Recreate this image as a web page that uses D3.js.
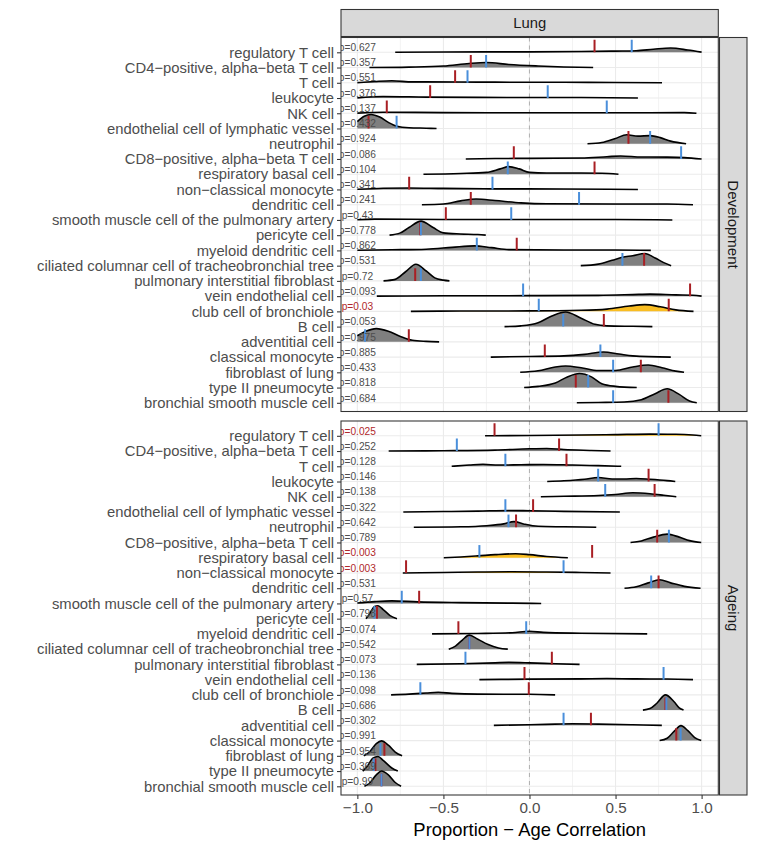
<!DOCTYPE html>
<html><head><meta charset="utf-8">
<script src="https://cdn.jsdelivr.net/npm/d3@7"></script>
<style>body{margin:0;background:#fff}svg{display:block;font-family:"Liberation Sans",Arial,sans-serif}</style>
</head><body><svg id="c" width="757" height="851"></svg>
<script>
const facetTop = "Lung";
const panels = ["Development", "Ageing"];
const cellTypes = ["regulatory T cell","CD4−positive, alpha−beta T cell","T cell","leukocyte","NK cell","endothelial cell of lymphatic vessel","neutrophil","CD8−positive, alpha−beta T cell","respiratory basal cell","non−classical monocyte","dendritic cell","smooth muscle cell of the pulmonary artery","pericyte cell","myeloid dendritic cell","ciliated columnar cell of tracheobronchial tree","pulmonary interstitial fibroblast","vein endothelial cell","club cell of bronchiole","B cell","adventitial cell","classical monocyte","fibroblast of lung","type II pneumocyte","bronchial smooth muscle cell"];
const xTicks = [-1, -0.5, 0, 0.5, 1];
const xMinor = [-0.75, -0.25, 0.25, 0.75];

const devP = [0.627,0.357,0.551,0.376,0.137,0.432,0.924,0.086,0.104,0.341,0.241,0.43,0.778,0.862,0.531,0.72,0.093,0.03,0.053,0.975,0.885,0.433,0.818,0.684];
const devRed = [0.378,-0.341,-0.432,-0.577,-0.829,-0.935,0.575,-0.091,0.378,-0.699,-0.341,-0.486,-0.635,-0.074,0.666,-0.664,0.933,0.809,0.432,-0.701,0.089,0.647,0.269,0.807];
const devBlue = [0.594,-0.252,-0.36,0.106,0.449,-0.772,0.701,0.881,-0.126,-0.215,0.288,-0.106,-0.631,-0.306,0.54,-0.631,-0.037,0.054,0.196,-0.955,0.412,0.486,0.341,0.486];
const devDensity = [
 [[-0.78,0],[-0.5,0.02],[0,0.03],[0.3,0.05],[0.5,0.08],[0.62,0.1],[0.72,0.2],[0.82,0.28],[0.92,0.15],[1.0,0.01]],
 [[-0.93,0],[-0.7,0.03],[-0.5,0.1],[-0.35,0.27],[-0.25,0.33],[-0.12,0.2],[0.05,0.1],[0.2,0.04],[0.37,0]],
 [[-1.0,0.01],[-0.9,0.08],[-0.8,0.13],[-0.68,0.06],[-0.4,0.05],[-0.2,0.04],[0.2,0.03],[0.5,0.02],[0.77,0]],
 [[-1.0,0.01],[-0.85,0.1],[-0.6,0.06],[-0.3,0.04],[0,0.03],[0.3,0.03],[0.63,0]],
 [[-1.0,0.01],[-0.85,0.07],[-0.5,0.04],[0,0.03],[0.5,0.03],[0.9,0.04],[0.97,0]],
 [[-1.0,0.45],[-0.96,0.8],[-0.92,0.92],[-0.87,0.75],[-0.82,0.4],[-0.77,0.15],[-0.7,0.05],[-0.6,0.02],[-0.54,0]],
 [[0.337,0],[0.42,0.08],[0.5,0.35],[0.565,0.59],[0.63,0.5],[0.7,0.53],[0.76,0.4],[0.82,0.17],[0.91,0]],
 [[-0.37,0],[-0.2,0.03],[0,0.04],[0.3,0.06],[0.45,0.15],[0.53,0.2],[0.65,0.13],[0.8,0.12],[0.9,0.09],[1.0,0]],
 [[-0.616,0],[-0.4,0.05],[-0.25,0.12],[-0.17,0.35],[-0.12,0.5],[-0.06,0.35],[0.0,0.12],[0.1,0.08],[0.3,0.08],[0.42,0.06],[0.517,0]],
 [[-1.0,0.01],[-0.85,0.08],[-0.7,0.1],[-0.5,0.07],[-0.2,0.04],[0.2,0.03],[0.63,0]],
 [[-0.625,0],[-0.5,0.05],[-0.4,0.25],[-0.31,0.37],[-0.2,0.27],[-0.05,0.12],[0.1,0.06],[0.5,0.05],[0.8,0.05],[0.95,0]],
 [[-1.0,0.01],[-0.9,0.05],[-0.5,0.03],[0,0.03],[0.5,0.03],[0.83,0]],
 [[-0.813,0],[-0.75,0.15],[-0.7,0.5],[-0.63,0.92],[-0.56,0.5],[-0.5,0.15],[-0.4,0.08],[-0.3,0.04],[-0.254,0]],
 [[-1.0,0.01],[-0.8,0.04],[-0.6,0.08],[-0.45,0.2],[-0.32,0.3],[-0.22,0.18],[-0.12,0.05],[0.2,0.03],[0.5,0.03],[0.705,0]],
 [[0.298,0],[0.4,0.1],[0.48,0.35],[0.54,0.55],[0.6,0.65],[0.67,0.8],[0.73,0.5],[0.78,0.2],[0.823,0]],
 [[-0.848,0],[-0.78,0.1],[-0.72,0.6],[-0.66,1.09],[-0.6,0.65],[-0.55,0.2],[-0.5,0.05],[-0.465,0]],
 [[-0.887,0],[-0.5,0.02],[0,0.03],[0.4,0.05],[0.6,0.1],[0.7,0.13],[0.85,0.08],[0.95,0.06],[1.0,0]],
 [[-0.689,0],[-0.4,0.02],[0,0.03],[0.3,0.07],[0.45,0.15],[0.58,0.35],[0.67,0.44],[0.76,0.3],[0.85,0.1],[0.953,0]],
 [[-0.145,0],[-0.05,0.05],[0.05,0.25],[0.13,0.7],[0.21,0.96],[0.3,0.55],[0.38,0.15],[0.45,0.05],[0.6,0.02],[0.714,0]],
 [[-1.0,0.4],[-0.95,0.7],[-0.89,0.87],[-0.82,0.7],[-0.75,0.35],[-0.68,0.1],[-0.6,0.03],[-0.525,0]],
 [[-0.225,0],[0,0.04],[0.2,0.08],[0.32,0.18],[0.43,0.33],[0.52,0.2],[0.6,0.08],[0.821,0]],
 [[-0.054,0],[0.05,0.1],[0.15,0.35],[0.21,0.41],[0.3,0.3],[0.4,0.12],[0.5,0.12],[0.6,0.35],[0.69,0.48],[0.77,0.3],[0.85,0.08],[0.898,0]],
 [[-0.031,0],[0.05,0.08],[0.15,0.3],[0.22,0.7],[0.29,0.92],[0.36,0.7],[0.42,0.25],[0.5,0.08],[0.623,0]],
 [[0.275,0],[0.4,0.02],[0.55,0.05],[0.65,0.2],[0.73,0.6],[0.8,0.92],[0.87,0.55],[0.93,0.12],[0.972,0]]
];

const ageP = [0.025,0.252,0.128,0.146,0.138,0.322,0.642,0.789,0.003,0.003,0.531,0.57,0.798,0.074,0.542,0.073,0.136,0.098,0.686,0.302,0.991,0.954,0.369,0.99];
const ageRed = [-0.203,0.172,0.215,0.692,0.727,0.021,-0.078,0.742,0.364,-0.717,0.75,-0.641,-0.886,-0.413,-0.35,0.13,-0.029,-0.004,0.79,0.357,0.853,-0.843,-0.895,-0.86];
const ageBlue = [0.75,-0.422,-0.14,0.399,0.44,-0.14,-0.122,0.81,-0.291,0.198,0.707,-0.742,-0.901,-0.019,-0.349,-0.372,0.779,-0.634,0.795,0.198,0.878,-0.866,-0.905,-0.86];
const ageDensity = [
 [[-0.258,0],[0,0.02],[0.3,0.05],[0.5,0.08],[0.7,0.11],[0.85,0.1],[0.95,0.05],[0.998,0]],
 [[-0.818,0],[-0.5,0.02],[-0.2,0.06],[0,0.15],[0.1,0.17],[0.2,0.1],[0.35,0.04],[0.471,0]],
 [[-0.452,0],[-0.35,0.08],[-0.27,0.13],[-0.18,0.08],[-0.05,0.1],[0.08,0.12],[0.25,0.08],[0.4,0.04],[0.533,0]],
 [[0.103,0],[0.2,0.05],[0.32,0.15],[0.4,0.26],[0.48,0.17],[0.55,0.17],[0.62,0.2],[0.7,0.15],[0.8,0.06],[0.847,0]],
 [[0.066,0],[0.2,0.03],[0.4,0.08],[0.5,0.15],[0.6,0.26],[0.7,0.2],[0.78,0.1],[0.853,0]],
 [[-0.733,0],[-0.5,0.03],[-0.3,0.06],[-0.12,0.1],[0,0.08],[0.2,0.04],[0.525,0]],
 [[-0.672,0],[-0.4,0.03],[-0.25,0.1],[-0.15,0.22],[-0.09,0.37],[-0.03,0.2],[0.05,0.06],[0.2,0.03],[0.388,0]],
 [[0.587,0],[0.65,0.1],[0.72,0.35],[0.8,0.55],[0.87,0.35],[0.93,0.12],[0.998,0]],
 [[-0.498,0],[-0.4,0.05],[-0.3,0.12],[-0.2,0.2],[-0.08,0.26],[0,0.2],[0.1,0.08],[0.223,0]],
 [[-0.736,0],[-0.5,0.03],[-0.3,0.06],[-0.1,0.08],[0.1,0.06],[0.3,0.03],[0.471,0]],
 [[0.552,0],[0.62,0.1],[0.69,0.35],[0.756,0.55],[0.82,0.35],[0.9,0.12],[0.994,0]],
 [[-1.0,0.03],[-0.9,0.12],[-0.8,0.17],[-0.65,0.1],[-0.4,0.05],[-0.1,0.02],[0.068,0]],
 [[-0.95,0],[-0.93,0.3],[-0.9,0.8],[-0.88,0.85],[-0.85,0.6],[-0.81,0.2],[-0.77,0]],
 [[-0.566,0],[-0.3,0.03],[-0.1,0.08],[0,0.17],[0.08,0.1],[0.3,0.04],[0.684,0]],
 [[-0.469,0],[-0.43,0.2],[-0.39,0.6],[-0.35,0.92],[-0.3,0.65],[-0.24,0.3],[-0.18,0.08],[-0.126,0]],
 [[-0.655,0],[-0.4,0.04],[-0.2,0.1],[-0.12,0.13],[0,0.1],[0.15,0.04],[0.291,0]],
 [[-0.291,0],[0,0.03],[0.3,0.05],[0.45,0.07],[0.6,0.05],[0.8,0.04],[0.95,0]],
 [[-0.804,0],[-0.7,0.05],[-0.6,0.12],[-0.53,0.17],[-0.45,0.1],[-0.3,0.05],[0,0.04],[0.149,0]],
 [[0.659,0],[0.7,0.1],[0.74,0.45],[0.79,1.0],[0.84,0.55],[0.87,0.15],[0.895,0]],
 [[-0.207,0],[0,0.04],[0.15,0.08],[0.25,0.1],[0.4,0.08],[0.6,0.04],[0.769,0]],
 [[0.756,0],[0.8,0.15],[0.84,0.6],[0.88,0.98],[0.92,0.65],[0.96,0.2],[0.998,0]],
 [[-0.963,0],[-0.93,0.25],[-0.89,0.8],[-0.86,0.98],[-0.82,0.7],[-0.78,0.25],[-0.74,0]],
 [[-0.969,0],[-0.94,0.35],[-0.91,0.85],[-0.88,0.96],[-0.85,0.7],[-0.8,0.2],[-0.765,0]],
 [[-0.959,0],[-0.93,0.2],[-0.89,0.75],[-0.86,1.0],[-0.82,0.75],[-0.78,0.25],[-0.746,0]]
];

const panelData = [
  {name: panels[0], p: devP, red: devRed, blue: devBlue, dens: devDensity},
  {name: panels[1], p: ageP, red: ageRed, blue: ageBlue, dens: ageDensity}
];

// ---- layout ----
const L = 341, R = 718.3;
const panelTops = [37.5, 421];
const panelH = 374;
const stripW = 27.5;
const x = d3.scaleLinear().domain([-1.095, 1.097]).range([L, R]);
const svg = d3.select("#c");
const grey = "#7f7f7f", gold = "#F9BD22", redC = "#A91F24", blueC = "#4A8FDB";
const FF = "Liberation Sans, Arial, sans-serif";

// top strip
svg.append("rect").attr("x", L).attr("y", 9.5).attr("width", R - L).attr("height", 27)
  .attr("fill", "#d9d9d9").attr("stroke", "#333").attr("stroke-width", 1.07);
svg.append("text").attr("x", (L + R) / 2).attr("y", 23).attr("dy", "0.35em")
  .attr("text-anchor", "middle").attr("font-size", 14.8).attr("fill", "#1a1a1a").text(facetTop);

panelData.forEach((pd, k) => {
  const top = panelTops[k], bot = top + panelH;
  const y = d3.scalePoint().domain(cellTypes).range([top + 14.8, top + 365.3]);
  const step = y.step();
  const h = d3.scaleLinear().domain([0, 1]).range([0, step]);
  const g = svg.append("g");
  const clipId = "clip" + k;
  svg.append("clipPath").attr("id", clipId).append("rect")
    .attr("x", L).attr("y", top).attr("width", R - L).attr("height", panelH);
  const pg = g.append("g").attr("clip-path", `url(#${clipId})`);
  // grid
  pg.selectAll(".minor").data(xMinor).join("line")
    .attr("x1", d => x(d)).attr("x2", d => x(d)).attr("y1", top).attr("y2", bot)
    .attr("stroke", "#ebebeb").attr("stroke-width", 0.6);
  pg.selectAll(".major").data(xTicks).join("line")
    .attr("x1", d => x(d)).attr("x2", d => x(d)).attr("y1", top).attr("y2", bot)
    .attr("stroke", "#ebebeb").attr("stroke-width", 1.1);
  pg.selectAll(".hg").data(cellTypes).join("line")
    .attr("x1", L).attr("x2", R).attr("y1", d => y(d)).attr("y2", d => y(d))
    .attr("stroke", "#ebebeb").attr("stroke-width", 1.1);
  // zero line
  pg.append("line").attr("x1", x(0)).attr("x2", x(0)).attr("y1", top).attr("y2", bot)
    .attr("stroke", "#b3b3b3").attr("stroke-width", 1.1).attr("stroke-dasharray", "4,4");
  // ridges
  cellTypes.forEach((ct, i) => {
    const base = y(ct);
    const pts = pd.dens[i];
    const area = d3.area().curve(d3.curveMonotoneX).x(d => x(d[0])).y0(base).y1(d => base - h(d[1]));
    const line = d3.line().curve(d3.curveMonotoneX).x(d => x(d[0])).y(d => base - h(d[1]));
    pg.append("path").attr("d", area(pts)).attr("fill", pd.p[i] < 0.05 ? gold : grey);
    pg.append("path").attr("d", line(pts)).attr("fill", "none").attr("stroke", "#000").attr("stroke-width", 1.6);
  });
  // segments
  pg.selectAll(".red").data(cellTypes).join("line")
    .attr("x1", (d, i) => x(pd.red[i])).attr("x2", (d, i) => x(pd.red[i]))
    .attr("y1", d => y(d)).attr("y2", d => y(d) - h(0.83))
    .attr("stroke", redC).attr("stroke-width", 2);
  pg.selectAll(".blue").data(cellTypes).join("line")
    .attr("x1", (d, i) => x(pd.blue[i])).attr("x2", (d, i) => x(pd.blue[i]))
    .attr("y1", d => y(d)).attr("y2", d => y(d) - h(0.83))
    .attr("stroke", blueC).attr("stroke-width", 2);
  // p labels
  pg.selectAll(".pl").data(cellTypes).join("text")
    .attr("x", x(-1)).attr("y", d => y(d) - 1.3).attr("text-anchor", "middle")
    .attr("font-size", 10.2).attr("fill", (d, i) => pd.p[i] < 0.05 ? "#B0272A" : "#4d4d4d")
    .text((d, i) => "p=" + pd.p[i]);
  // border
  g.append("rect").attr("x", L).attr("y", top).attr("width", R - L).attr("height", panelH)
    .attr("fill", "none").attr("stroke", "#333").attr("stroke-width", 1.07);
  // y axis
  const ya = g.append("g").attr("transform", `translate(${L},0)`)
    .call(d3.axisLeft(y).tickSize(4).tickPadding(3));
  ya.select(".domain").remove();
  ya.selectAll(".tick line").attr("stroke", "#333").attr("stroke-width", 1.07);
  ya.selectAll(".tick text").attr("font-size", 14.8).attr("fill", "#4d4d4d").attr("font-family", FF);
  // right strip
  g.append("rect").attr("x", R + 1.2).attr("y", top).attr("width", stripW).attr("height", panelH)
    .attr("fill", "#d9d9d9").attr("stroke", "#333").attr("stroke-width", 1.07);
  g.append("text").attr("transform", `translate(${R + 1.2 + stripW / 2},${top + panelH / 2}) rotate(90)`)
    .attr("text-anchor", "middle").attr("dy", "0.35em").attr("font-size", 15).attr("fill", "#1a1a1a").text(pd.name);
  if (k === 1) {
    const xa = g.append("g").attr("transform", `translate(0,${bot})`)
      .call(d3.axisBottom(x).tickValues(xTicks).tickFormat(d3.format(".1f")).tickSize(4).tickPadding(3));
    xa.select(".domain").remove();
    xa.selectAll(".tick line").attr("stroke", "#333").attr("stroke-width", 1.07);
    xa.selectAll(".tick text").attr("font-size", 15.2).attr("fill", "#4d4d4d").attr("font-family", FF);
  }
});

svg.append("text").attr("x", (L + R) / 2).attr("y", 836).attr("text-anchor", "middle")
  .attr("font-size", 18.4).attr("fill", "#000").text("Proportion − Age Correlation");
</script></body></html>
